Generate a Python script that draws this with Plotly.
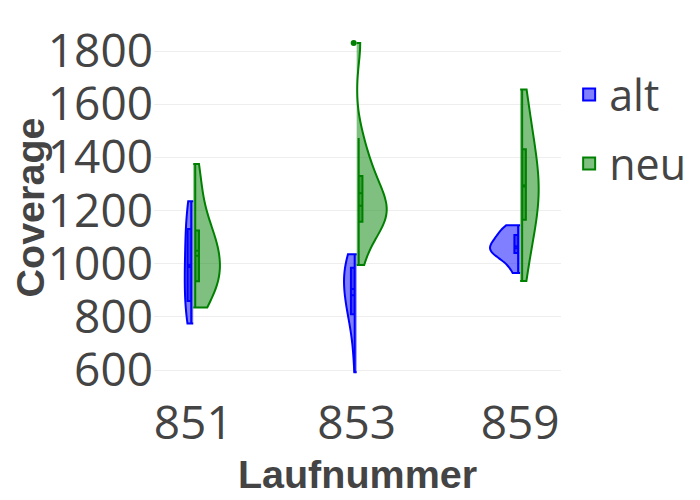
import plotly.graph_objects as go

runs = ["851", "853", "859"]

alt_851 = [775, 790, 820, 860, 900, 940, 975, 1000, 1040, 1090, 1130, 1170, 1210, 1235]
alt_853 = [592, 700, 780, 810, 840, 870, 895, 915, 935, 960, 985, 1000, 1020, 1035]
alt_859 = [965, 1000, 1035, 1042, 1048, 1052, 1058, 1070, 1085, 1105, 1115, 1130, 1145]

neu_851 = [835, 880, 910, 930, 945, 975, 1000, 1030, 1050, 1080, 1110, 1130, 1200, 1280, 1375]
neu_853 = [995, 1080, 1130, 1150, 1165, 1185, 1200, 1210, 1225, 1250, 1290, 1320, 1340, 1400, 1473, 1830]
neu_859 = [935, 1020, 1100, 1160, 1180, 1220, 1260, 1290, 1320, 1360, 1400, 1440, 1500, 1580, 1655]

alt_groups = [alt_851, alt_853, alt_859]
neu_groups = [neu_851, neu_853, neu_859]


def flatten(groups):
    xs, ys = [], []
    for r, vals in zip(runs, groups):
        xs += [r] * len(vals)
        ys += vals
    return xs, ys


ax, ay = flatten(alt_groups)
nx, ny = flatten(neu_groups)

fig = go.Figure()
fig.add_trace(go.Violin(
    x=ax, y=ay, name="alt", side="negative", legendgroup="alt",
    line=dict(color="blue", width=2), fillcolor="rgba(0,0,255,0.5)",
    box_visible=True, meanline_visible=True, points="outliers",
    spanmode="hard", width=0.367, pointpos=-0.1, jitter=0,
    marker=dict(color="blue", size=6),
))
fig.add_trace(go.Violin(
    x=nx, y=ny, name="neu", side="positive", legendgroup="neu",
    line=dict(color="green", width=2), fillcolor="rgba(0,128,0,0.5)",
    box_visible=True, meanline_visible=True, points="outliers",
    spanmode="hard", width=0.367, pointpos=-0.1, jitter=0,
    marker=dict(color="green", size=6),
))

title_font = dict(family="Liberation Sans, Arial", size=39.5, weight="bold", color="#444")

fig.update_layout(
    width=700, height=500,
    violinmode="overlay",
    paper_bgcolor="white", plot_bgcolor="white",
    font=dict(family="Open Sans", size=46, color="#444"),
    margin=dict(l=146, r=147, t=12, b=113),
    xaxis=dict(
        title=dict(text="Laufnummer", font=title_font, standoff=9),
        type="category", showgrid=False, zeroline=False, automargin=False,
        range=[-0.24, 2.25], tickfont=dict(size=46), ticklabelstandoff=-3,
    ),
    yaxis=dict(
        title=dict(text="Coverage", font=title_font, standoff=9),
        range=[506, 1916.6], gridcolor="#eeeeee", zeroline=False, automargin=False,
        tickvals=[600, 800, 1000, 1200, 1400, 1600, 1800],
        tickfont=dict(size=46),
    ),
    legend=dict(font=dict(size=43), y=0.893, yanchor="top", tracegroupgap=10),
)

fig.write_html("out.html")
